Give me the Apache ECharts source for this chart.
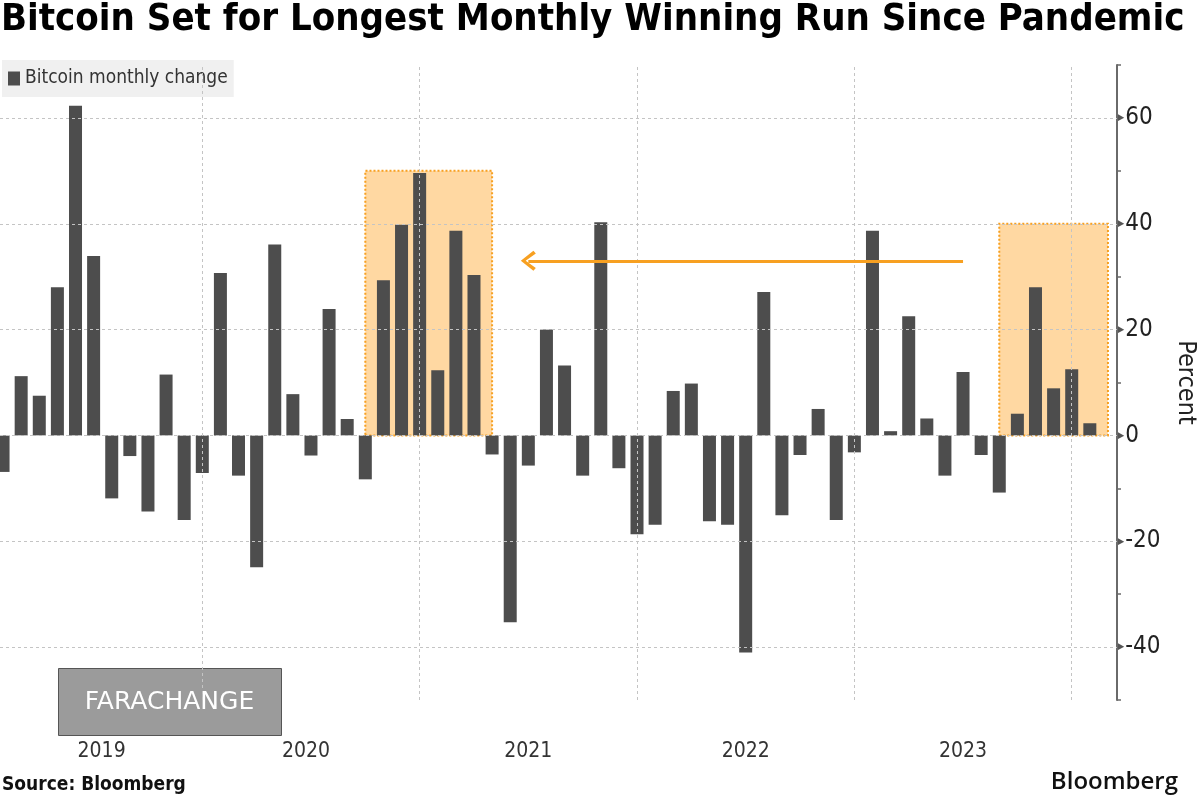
<!DOCTYPE html>
<html><head><meta charset="utf-8">
<script src="https://cdn.jsdelivr.net/npm/echarts@6/dist/echarts.min.js"></script>
<style>html,body{margin:0;padding:0;background:#fff}#c{width:1200px;height:800px}</style>
</head><body><div id="c"></div>
<script>
// ---- data ----
const monthNames = ['Jan','Feb','Mar','Apr','May','Jun','Jul','Aug','Sep','Oct','Nov','Dec'];
const years = [2019, 2020, 2021, 2022, 2023, 2024];
// monthly change in percent, Jan 2019 .. Jan 2024
const monthlyChange = [
  -6.9, 11.2, 7.5, 28.0, 62.3, 33.9, -11.9, -3.9, -14.4, 11.5, -16.0, -7.1,
  30.7, -7.6, -24.9, 36.1, 7.8, -3.8, 23.9, 3.1, -8.3, 29.3, 39.8, 49.6,
  12.3, 38.7, 30.3, -3.6, -35.3, -5.7, 20.0, 13.2, -7.6, 40.3, -6.2, -18.7,
  -16.9, 8.4, 9.8, -16.2, -16.9, -41.0, 27.1, -15.1, -3.7, 5.0, -16.0, -3.2,
  38.7, 0.8, 22.5, 3.2, -7.6, 12.0, -3.7, -10.8, 4.1, 28.0, 8.9, 12.5, 2.3
];
const yearLabelMonth = 'Jun';               // year labels sit mid-year
const yearBoundaryMonth = 'Dec';            // dotted year separators
const yGridValues = [-40, -20, 0, 20, 40, 60];
const highlightRuns = [
  { from: 'Sep 2020', to: 'Apr 2021', top: 50 },
  { from: 'Aug 2023', to: 'Feb 2024', top: 40 }
];
const arrowLine = { from: 'Jun 2023', to: 'Jun 2021', level: 33 };

// ---- build categories (Jan 2019 .. Feb 2024) ----
const categories = [];
for (const y of years) for (const m of monthNames) {
  if (y === 2024 && monthNames.indexOf(m) > 1) break;
  categories.push(m + ' ' + y);
}

const gridColor = '#c4c4c4';
const barColor = '#4d4d4d';
const orange = '#f7a021';
const condFont = "'DejaVu Sans Condensed','DejaVu Sans',sans-serif";

const chart = echarts.init(document.getElementById('c'), null, {renderer: 'canvas'});
chart.setOption({
  animation: false,
  backgroundColor: '#fff',
  title: [
    { text: 'Bitcoin Set for Longest Monthly Winning Run Since Pandemic', left: 1, top: 1, padding: 0,
      textStyle: { fontSize: 38, fontWeight: 'bold', color: '#000', fontFamily: condFont } },
    { text: 'Source: Bloomberg', left: 2, bottom: 5, padding: 0,
      textStyle: { fontSize: 19, fontWeight: 'bold', color: '#111', fontFamily: condFont } },
    { text: 'Bloomberg', right: 22, bottom: 6, padding: 0,
      textStyle: { fontSize: 24, fontWeight: 600, color: '#111', fontFamily: "'Open Sans','Liberation Sans',sans-serif" } }
  ],
  legend: {
    left: 2, top: 60, padding: [9, 6, 9, 6], backgroundColor: '#f0f0f0',
    icon: 'rect', itemWidth: 12, itemHeight: 14, itemGap: 4,
    textStyle: { fontSize: 19, color: '#333', fontFamily: condFont },
    data: ['Bitcoin monthly change']
  },
  grid: { left: -6, right: 83, top: 65, bottom: 100, containLabel: false, outerBoundsMode: 'none' },
  xAxis: {
    type: 'category', data: categories, boundaryGap: true,
    axisLine: { show: false }, axisTick: { show: false }, splitLine: { show: false },
    axisLabel: {
      interval: 0, margin: 41, fontSize: 21, color: '#333', fontFamily: condFont,
      formatter: function (v) {
        const p = v.split(' ');
        if (p[0] !== yearLabelMonth) return '';
        if (p[1] === '2019') return '{a|' + p[1] + '}';
        if (p[1] === '2020') return '{b|' + p[1] + '}';
        return p[1];
      },
      rich: {
        a: { fontSize: 21, color: '#333', fontFamily: condFont, padding: [0, 0, 0, 16] },
        b: { fontSize: 21, color: '#333', fontFamily: condFont, padding: [0, 10, 0, 0] }
      }
    }
  },
  yAxis: {
    type: 'value', position: 'right', min: -50, max: 70, interval: 10,
    name: 'Percent', nameLocation: 'middle', nameRotate: -90, nameGap: 56,
    nameTextStyle: { fontSize: 25, color: '#222', fontFamily: condFont },
    axisLine: { show: true, lineStyle: { color: '#6a6a6a', width: 2 } },
    axisTick: { show: true, length: 4, inside: false, lineStyle: { color: '#6a6a6a', width: 1.5 } },
    splitLine: { show: false },
    axisLabel: {
      margin: 1, fontSize: 24, color: '#222', fontFamily: condFont,
      formatter: function (v) { return v % 20 === 0 ? '{t|▶}{v|' + v + '}' : ''; },
      rich: {
        t: { fontSize: 9, color: '#555', padding: [0, 1, 0, 0] },
        v: { fontSize: 24, color: '#222', fontFamily: condFont }
      }
    }
  },
  series: [
    {
      name: 'grid-lines', type: 'line', data: [], z: 1, silent: true,
      markLine: {
        silent: true, symbol: 'none', label: { show: false },
        lineStyle: { color: gridColor, type: [3, 3], width: 1 },
        data: yGridValues.map(v => ({ yAxis: v }))
          .concat(categories.filter(c => c.startsWith(yearBoundaryMonth)).map(c => ({ xAxis: c })))
      }
    },
    {
      name: 'Bitcoin monthly change', type: 'bar', data: monthlyChange, z: 2,
      barWidth: 13, itemStyle: { color: barColor }
    },
    {
      name: 'highlight', type: 'line', data: [], z: 5, silent: true,
      markArea: {
        silent: true,
        itemStyle: { color: 'rgba(255,157,23,0.40)', borderColor: orange, borderWidth: 2, borderType: 'dotted' },
        data: highlightRuns.map(r => [{ xAxis: r.from, yAxis: 0 }, { xAxis: r.to, yAxis: r.top }])
      },
      markLine: {
        silent: true, label: { show: false },
        symbol: ['none', 'path://M10,0 L20,13 L17.3,15.5 L10,5 L2.7,15.5 L0,13 Z'],
        symbolSize: [20, 15],
        lineStyle: { color: orange, width: 3, type: 'solid' },
        itemStyle: { color: orange },
        data: [[{ coord: [arrowLine.from, arrowLine.level] }, { coord: [arrowLine.to, arrowLine.level] }]]
      }
    }
  ],
  graphic: [
    {
      type: 'group', left: 58, top: 668, z: 100,
      children: [
        { type: 'rect', shape: { x: 0, y: 0, width: 223, height: 67 },
          style: { fill: '#9b9b9b', stroke: '#555', lineWidth: 1 } },
        { type: 'text', x: 111, y: 34,
          style: { text: 'FARACHANGE', fill: '#fff', font: "25px 'DejaVu Sans', sans-serif", align: 'center', verticalAlign: 'middle' } }
      ]
    }
  ]
});
</script></body></html>
